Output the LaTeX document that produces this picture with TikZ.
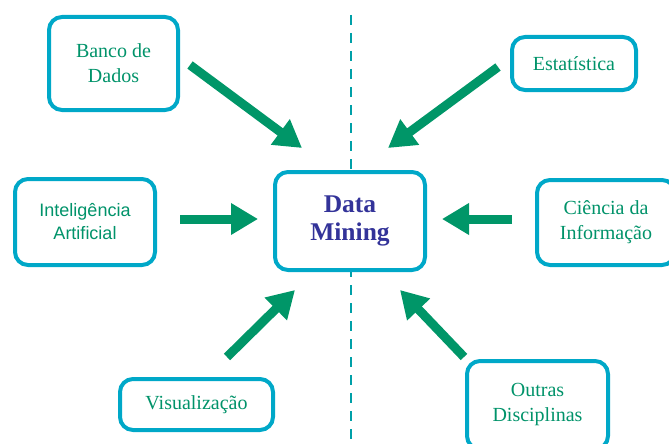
\documentclass[tikz,border=0pt]{standalone}
\usepackage{fontspec}
\setmainfont{Liberation Serif}
\newfontfamily\arialfont{Liberation Sans}
\usetikzlibrary{arrows.meta}
\definecolor{boxcyan}{RGB}{0,168,200}
\definecolor{txtgreen}{RGB}{0,147,106}
\definecolor{arrgreen}{RGB}{0,150,104}
\definecolor{dmblue}{RGB}{51,51,153}
\definecolor{dashteal}{RGB}{0,160,168}
\tikzset{
  topic/.style={draw=boxcyan, line width=4pt, rounded corners=13pt, fill=white,
    align=center, text=txtgreen, font=\fontsize{20}{25}\selectfont, inner sep=0pt},
  bigarrow/.style={draw=arrgreen, line width=9pt,
    -{Triangle[length=27pt,width=30pt]}, fill=arrgreen},
  divider/.style={draw=dashteal, line width=2.6pt, dash pattern=on 10pt off 8pt}
}
\begin{document}
\begin{tikzpicture}[x=1pt,y=-1pt]
\useasboundingbox (0,0) rectangle (669,444);
\clip (0,0) rectangle (669,444);
\coordinate (dtop) at (351,15);
\coordinate (dbot) at (351,444);
\draw[divider] (dtop) -- (dbot);

\node[topic, minimum width=129pt, minimum height=93pt] (banco) at (113.5,63.5) {Banco de\\Dados};
\node[topic, minimum width=150pt, minimum height=98pt, text=dmblue,
  font=\fontsize{25.5}{28}\selectfont\bfseries] (dm) at (350,221) {Data\\Mining};
\node[topic, minimum width=140pt, minimum height=86pt,
  font=\arialfont\fontsize{18}{23}\selectfont] (ia) at (85,222) {Inteligência\\Artificial};
\node[topic, minimum width=138pt, minimum height=85pt] (ci) at (606,222.5) {Ciência da\\Informação};
\node[topic, minimum width=153pt, minimum height=51pt] (vis) at (196.5,404.5) {Visualização};
\node[topic, minimum width=141pt, minimum height=88pt] (out) at (537.5,405) {Outras\\Disciplinas};
\node[topic, minimum width=124pt, minimum height=53pt] (est) at (574,63.5) {Estatística};

\coordinate (bancoT) at (190,65);   \coordinate (bancoH) at (302,148);
\coordinate (estT) at (498,67);     \coordinate (estH) at (388,148);
\coordinate (iaT) at (180,219);     \coordinate (iaH) at (258,219);
\coordinate (ciT) at (512,219);     \coordinate (ciH) at (442,219);
\coordinate (visT) at (227,357);    \coordinate (visH) at (295,290);
\coordinate (outT) at (464,357);    \coordinate (outH) at (400,290);

\draw[bigarrow] (bancoT) -- (bancoH);
\draw[bigarrow] (estT) -- (estH);
\draw[bigarrow] (iaT) -- (iaH);
\draw[bigarrow] (ciT) -- (ciH);
\draw[bigarrow] (visT) -- (visH);
\draw[bigarrow] (outT) -- (outH);
\end{tikzpicture}
\end{document}
